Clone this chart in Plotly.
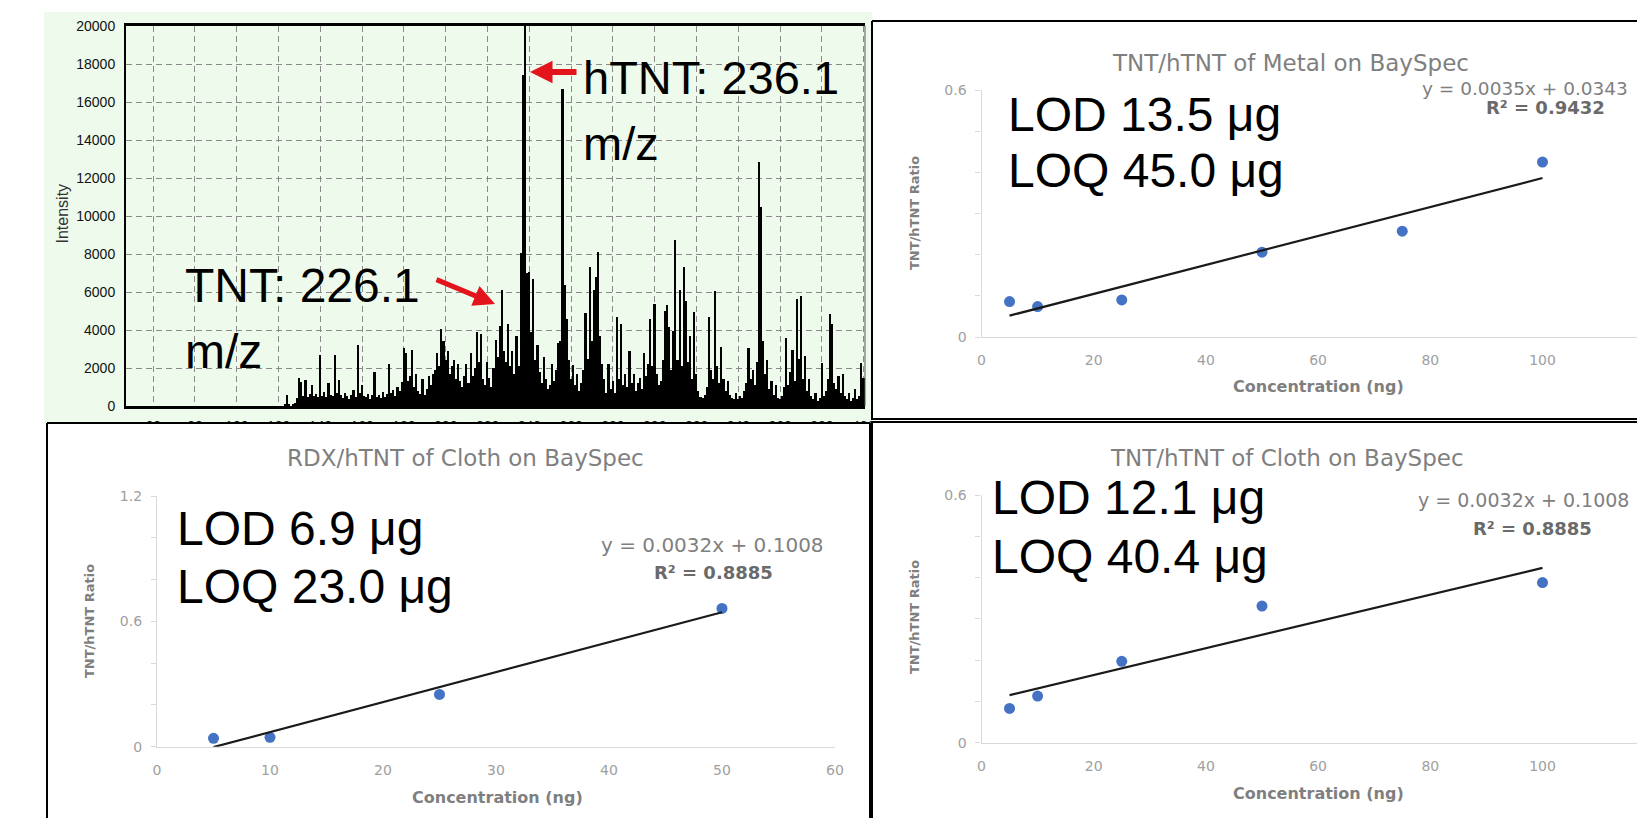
import numpy as np
import plotly.graph_objects as go

W, H = 1637, 818

# ---------------- data ----------------
# mass spectrum (stick intensities at integer m/z)
spec_mz = list(range(120, 401))
spec_intensity = [
    0, 0, 0, 120, 580, 90, 0, 60, 180, 420,
    1450, 1280, 520, 1370, 480, 650, 1100, 520, 640, 450,
    2670, 520, 760, 480, 1200, 600, 520, 2670, 700, 1370,
    560, 430, 700, 520, 380, 600, 820, 450, 3200, 700,
    1100, 520, 450, 640, 380, 560, 1780, 480, 560, 400,
    720, 450, 640, 2220, 700, 860, 520, 1000, 800, 1250,
    3060, 2800, 1300, 1600, 2970, 1000, 1700, 800, 650, 1400,
    600, 900, 1600, 1100, 1700, 1900, 2800, 2100, 4040, 3420,
    2400, 2900, 1700, 2100, 2400, 1400, 2200, 1300, 1000, 1600,
    2200, 1200, 2800, 1600, 2000, 3920, 2300, 3770, 1400, 1100,
    2300, 1500, 1000, 2000, 3500, 2600, 4200, 6120, 2900, 2300,
    4300, 2100, 2900, 1700, 3680, 2100, 8050, 17400, 20000, 7000,
    7070, 3900, 6660, 2400, 3200, 1800, 1200, 2600, 1400, 900,
    1100, 2200, 1300, 1900, 3330, 3420, 16700, 6350, 4570, 2400,
    1400, 2170, 1100, 1700, 800, 1200, 1900, 4880, 2500, 7300,
    3400, 6090, 6800, 8080, 3680, 2200, 1400, 700, 2210, 900,
    1300, 700, 4660, 1400, 4310, 1100, 1700, 1000, 2880, 1200,
    1700, 800, 1200, 1500, 900, 2800, 1600, 2200, 4570, 2100,
    5380, 1700, 1100, 1300, 2400, 5020, 5290, 4170, 1900, 3950,
    8760, 2400, 6120, 2100, 7300, 5550, 2300, 3700, 1400, 4970,
    1700, 800, 500, 420, 600, 1000, 4700, 1900, 1400, 6050,
    2100, 1200, 3100, 1400, 800, 1300, 600, 420, 350, 700,
    350, 520, 420, 800, 1200, 3030, 1400, 1900, 1100, 2300,
    12850, 10480, 3420, 1700, 2440, 900, 1300, 600, 1100, 420,
    350, 520, 1000, 3600, 1100, 1800, 2970, 1300, 5610, 2500,
    5770, 1400, 2620, 800, 1400, 520, 350, 700, 260, 420,
    2260, 520, 800, 1400, 4840, 4310, 1200, 900, 1600, 700,
    1700, 520, 350, 700, 260, 420, 900, 350, 520, 2260,
    1500,
]
spec_xticks = list(range(60, 401, 20))
spec_yticks = list(range(0, 20001, 2000))
spec_ytick_text = [str(v) for v in spec_yticks]

metal_conc = [5, 10, 25, 50, 75, 100]
metal_ratio = [0.086, 0.074, 0.090, 0.206, 0.257, 0.425]
rdx_conc = [5, 10, 25, 50]
rdx_ratio = [0.040, 0.045, 0.250, 0.662]
cloth_conc = [5, 10, 25, 50, 100]
cloth_ratio = [0.083, 0.113, 0.197, 0.331, 0.388]

conc_ticks_100 = [0, 20, 40, 60, 80, 100]
conc_ticks_60 = [0, 10, 20, 30, 40, 50, 60]

titles = ["TNT/hTNT of Metal on BaySpec", "RDX/hTNT of Cloth on BaySpec", "TNT/hTNT of Cloth on BaySpec"]
equations = ["y = 0.0035x + 0.0343", "y = 0.0032x + 0.1008", "y = 0.0032x + 0.1008"]
r2_texts = ["R\u00b2 = 0.9432", "R\u00b2 = 0.8885", "R\u00b2 = 0.8885"]
lod_texts = [("LOD 13.5 \u03bcg", "LOQ 45.0 \u03bcg"), ("LOD 6.9 \u03bcg", "LOQ 23.0 \u03bcg"), ("LOD 12.1 \u03bcg", "LOQ 40.4 \u03bcg")]

# ---------------- helpers ----------------
def px(x):
    return x / W

def py(y):
    return 1 - y / H

ARIAL = "Liberation Sans, Arial, sans-serif"
EXCEL = "DejaVu Sans, Verdana, sans-serif"
BLUE = "#4472c4"
RED = "#e3141b"

annotations = []

def ann(text, x, y, size, color="black", family=ARIAL, xanchor="center", yanchor="middle", angle=0, weight="normal"):
    annotations.append(dict(
        text=text, x=px(x), y=py(y), xref="paper", yref="paper", showarrow=False,
        xanchor=xanchor, yanchor=yanchor, textangle=angle,
        font=dict(size=size, color=color, family=family, weight=weight)))

fig = go.Figure()

# ---------------- spectrum ----------------
fig.add_trace(go.Bar(x=spec_mz, y=spec_intensity, width=0.8, marker=dict(color="black", line=dict(width=0)),
                     xaxis="x", yaxis="y", hoverinfo="skip"))

# ---------------- calibration panels ----------------
def add_panel(conc, ratio, xa, ya):
    fig.add_trace(go.Scatter(x=conc, y=ratio, mode="markers", marker=dict(color=BLUE, size=11),
                             xaxis=xa, yaxis=ya, hoverinfo="skip"))
    slope, icpt = np.polyfit(conc, ratio, 1)
    xs = [min(conc), max(conc)]
    fig.add_trace(go.Scatter(x=xs, y=[slope * v + icpt for v in xs], mode="lines",
                             line=dict(color="#1a1a1a", width=2.2), xaxis=xa, yaxis=ya, hoverinfo="skip"))

add_panel(metal_conc, metal_ratio, "x2", "y2")
add_panel(rdx_conc, rdx_ratio, "x3", "y3")
add_panel(cloth_conc, cloth_ratio, "x4", "y4")

# ---------------- axes ----------------
spec_grid = dict(showgrid=True, gridcolor="#8a8a8a", gridwidth=1, griddash="6px,4px", zeroline=False, automargin=False)
xa_spec = dict(domain=[px(126), px(865)], range=[47, 400.6], anchor="y", tickmode="array", tickvals=spec_xticks,
               showline=True, linecolor="black", linewidth=2.5, mirror=True, ticks="",
               tickfont=dict(family=ARIAL, size=14, color="#111"), ticklabelstandoff=5, **spec_grid)
ya_spec = dict(domain=[py(406), py(26)], range=[0, 20000], anchor="x", tickmode="array", tickvals=spec_yticks,
               ticktext=spec_ytick_text,
               showline=True, linecolor="black", linewidth=2, ticks="",
               tickfont=dict(family=ARIAL, size=14, color="#111"), ticklabelstandoff=6, **spec_grid)

def excel_x(dom, rng, ticks, anchor):
    return dict(domain=dom, range=rng, anchor=anchor, tickmode="array", tickvals=ticks, ticks="",
                showline=True, linecolor="#d9d9d9", linewidth=1.3, showgrid=False, zeroline=False, automargin=False,
                tickfont=dict(family=EXCEL, size=14, color="#a0a0a0"), ticklabelstandoff=10)

def excel_y(dom, rng, major, minor, anchor):
    return dict(domain=dom, range=rng, anchor=anchor, tickmode="linear", tick0=0, dtick=major,
                ticks="outside", ticklen=5, tickcolor="#d9d9d9",
                minor=dict(tickmode="linear", tick0=0, dtick=minor, ticks="outside", ticklen=5, tickcolor="#d9d9d9"),
                showline=True, linecolor="#d9d9d9", linewidth=1.3, showgrid=False, zeroline=False, automargin=False,
                tickfont=dict(family=EXCEL, size=14, color="#a0a0a0"), ticklabelstandoff=6)

right_end = (W - 981.5) / 5.61
fig.update_layout(
    xaxis=xa_spec, yaxis=ya_spec,
    xaxis2=excel_x([px(981.5), 1.0], [0, right_end], conc_ticks_100, "y2"),
    yaxis2=excel_y([py(337), py(90)], [0, 0.6], 0.6, 0.1, "x2"),
    xaxis3=excel_x([px(157), px(835)], [0, 60], conc_ticks_60, "y3"),
    yaxis3=excel_y([py(746.7), py(496)], [0, 1.2], 0.6, 0.2, "x3"),
    xaxis4=excel_x([px(981.5), 1.0], [0, right_end], conc_ticks_100, "y4"),
    yaxis4=excel_y([py(742.7), py(495)], [0, 0.6], 0.6, 0.1, "x4"),
)

# ---------------- panel backgrounds / borders ----------------
def rect(x0, y0, x1, y1, fill, layer="below", lw=0, lc="black"):
    return dict(type="rect", xref="paper", yref="paper", x0=px(x0), x1=px(x1), y0=py(y1), y1=py(y0),
                fillcolor=fill, line=dict(width=lw, color=lc), layer=layer)

def line(x0, y0, x1, y1, color="black", width=2, layer="above"):
    return dict(type="line", xref="paper", yref="paper", x0=px(x0), x1=px(x1), y0=py(y0), y1=py(y1),
                line=dict(color=color, width=width), layer=layer)

shapes = [
    rect(44, 12, 872, 423, "#eefaeb"),
    rect(872, 21, W + 5, 420, "white"),
    rect(47, 423, 870, H + 5, "white"),
    rect(872, 421, W + 5, H + 5, "white"),
    rect(48, 424, 869, 440, "white", layer="above"),
    rect(873, 400, 905, 440, "white", layer="above"),
    line(865, 26, 865, 406, color="#555", width=1),
    # borders
    line(872, 21, 872, 420), line(872, 21, W + 5, 21), line(872, 419, W + 5, 419),
    line(47, 423, 47, H + 5), line(47, 423, 870, 423), line(870, 423, 870, H + 5),
    line(872, 422, 872, H + 5), line(872, 422, W + 5, 422),
]

# ---------------- texts ----------------
# spectrum
ann("Intensity", 61.5, 213, 16, color="#333", angle=-90)
ann("hTNT: 236.1", 581, 77, 47, xanchor="left")
ann("m/z", 581, 143, 47, xanchor="left")
ann("TNT: 226.1", 183, 285.5, 48, xanchor="left")
ann("m/z", 183, 351.6, 48, xanchor="left")

annotations.append(dict(x=px(530), y=py(72), xref="paper", yref="paper", text="", showarrow=True,
                        ax=48, ay=0, arrowcolor=RED, arrowwidth=6, arrowhead=2, arrowsize=0.75, standoff=0))
annotations.append(dict(x=px(495), y=py(304), xref="paper", yref="paper", text="", showarrow=True,
                        ax=-60, ay=-25, arrowcolor=RED, arrowwidth=5, arrowhead=2, arrowsize=0.85, standoff=0))

# excel panels
TGRAY = "#7f7f7f"
ann(titles[0], 1290, 63, 23, color=TGRAY, family=EXCEL)
ann(titles[1], 465, 458, 23, color=TGRAY, family=EXCEL)
ann(titles[2], 1287, 458, 23, color=TGRAY, family=EXCEL)

for (cx, cy) in [(1318, 387), (497, 797), (1318, 793)]:
    ann("Concentration (ng)", cx, cy, 16, color=TGRAY, family=EXCEL, weight="bold")
for (cx, cy) in [(914, 213), (89, 621), (914, 617)]:
    ann("TNT/hTNT Ratio", cx, cy, 13, color=TGRAY, family=EXCEL, weight="bold", angle=-90)

ann(equations[0], 1420, 88, 18.5, color=TGRAY, family=EXCEL, xanchor="left")
ann(equations[1], 712, 545, 20, color=TGRAY, family=EXCEL)
ann(equations[2], 1416, 500, 19, color=TGRAY, family=EXCEL, xanchor="left")
ann(r2_texts[0], 1545, 107, 18, color="#6a6a6a", family=EXCEL, weight="bold")
ann(r2_texts[1], 713, 572, 18, color="#6a6a6a", family=EXCEL, weight="bold")
ann(r2_texts[2], 1532, 528, 18, color="#6a6a6a", family=EXCEL, weight="bold")

lod_pos = [(1006, 114.8, 170.8), (175, 528, 586), (990, 497.8, 556)]
for (l1, l2), (lx, y1, y2) in zip(lod_texts, lod_pos):
    ann(l1, lx, y1, 48, xanchor="left")
    ann(l2, lx, y2, 48, xanchor="left")

fig.update_layout(
    width=W, height=H, margin=dict(l=0, r=0, t=0, b=0, autoexpand=False), showlegend=False,
    paper_bgcolor="white", plot_bgcolor="rgba(0,0,0,0)", bargap=0,
    shapes=shapes, annotations=annotations,
)

fig.write_html("out.html", config={"displayModeBar": False},
               post_script="document.body.style.margin='0px';")
